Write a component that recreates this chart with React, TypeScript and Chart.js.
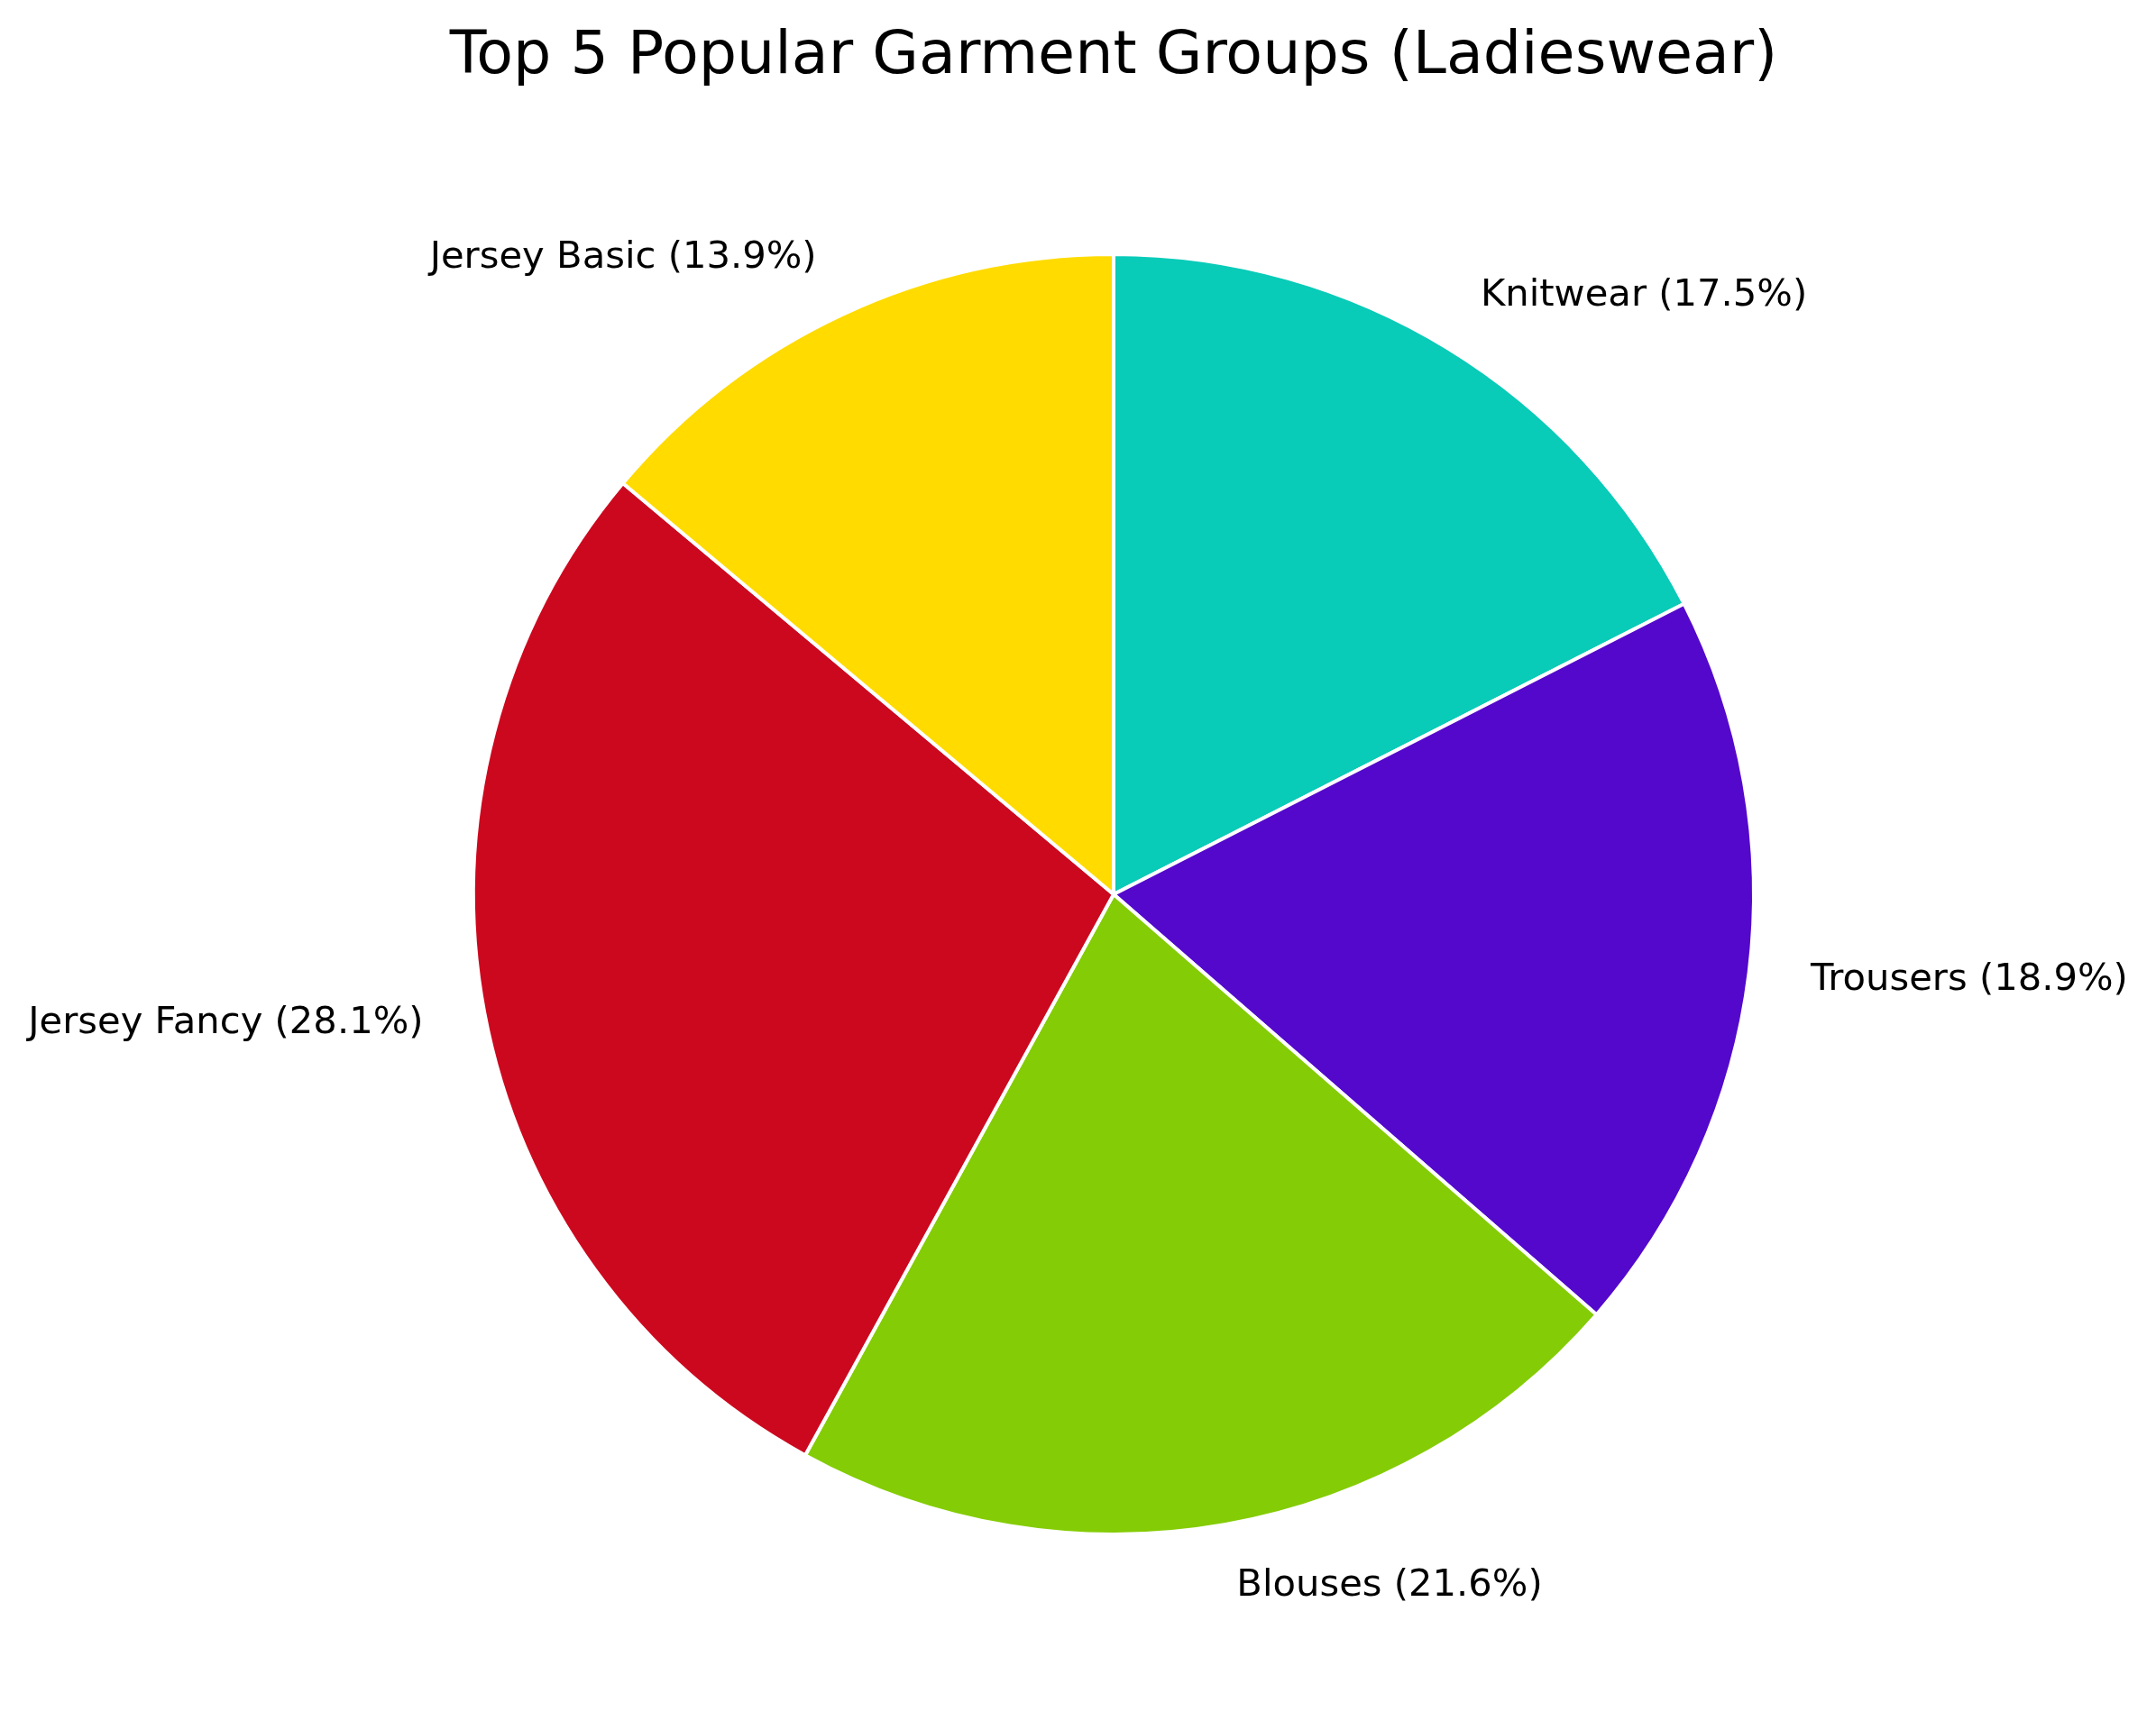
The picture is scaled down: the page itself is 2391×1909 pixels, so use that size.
import React, { useEffect, useRef } from "react";
import { Chart, registerables } from "chart.js";

Chart.register(...registerables);

const categories = ["Knitwear", "Trousers", "Blouses", "Jersey Fancy", "Jersey Basic"];
const shares = [17.5, 18.9, 21.6, 28.1, 13.9];
const colors = ["#08CBB8", "#5308CC", "#84CC05", "#CC081F", "#FFDB00"];
const titleText = "Top 5 Popular Garment Groups (Ladieswear)";

const W = 2391;
const H = 1909;
const FONT = "'DejaVu Sans', sans-serif";

const outsideLabels = {
  id: "outsideLabels",
  afterDatasetsDraw(chart: any) {
    const ctx = chart.ctx;
    const meta = chart.getDatasetMeta(0);
    const data = chart.data.datasets[0].data as number[];
    const total = data.reduce((a, b) => a + b, 0);
    ctx.save();
    ctx.font = `41.7px ${FONT}`;
    ctx.fillStyle = "#000000";
    ctx.textBaseline = "middle";
    meta.data.forEach((arc: any, i: number) => {
      const p = arc.getProps(["x", "y", "startAngle", "endAngle", "outerRadius"], true);
      const mid = (p.startAngle + p.endAngle) / 2;
      const r = (p.outerRadius - 2) * 1.1;
      const x = p.x + Math.cos(mid) * r;
      const y = p.y + Math.sin(mid) * r;
      ctx.textAlign = Math.cos(mid) >= 0 ? "left" : "right";
      const pct = ((data[i] / total) * 100).toFixed(1);
      ctx.fillText(`${chart.data.labels[i]} (${pct}%)`, x, y);
    });
    ctx.restore();
  },
};

export default function App() {
  const ref = useRef<HTMLCanvasElement | null>(null);
  useEffect(() => {
    if (!ref.current) return;
    const chart = new Chart(ref.current, {
      type: "pie",
      data: {
        labels: categories,
        datasets: [
          {
            data: shares,
            backgroundColor: colors,
            borderColor: "#ffffff",
            borderWidth: 4,
          },
        ],
      },
      options: {
        responsive: false,
        animation: false,
        radius: 710,
        layout: { padding: { top: 0, bottom: 207.5, left: 79, right: 0 } },
        plugins: {
          legend: { display: false },
          tooltip: { enabled: false },
          title: {
            display: true,
            text: titleText,
            color: "#000000",
            font: { family: FONT, size: 66.7, weight: "normal", lineHeight: 1.2 },
            padding: { top: 24, bottom: 178.5 },
          },
        },
      } as any,
      plugins: [outsideLabels],
    });
    return () => chart.destroy();
  }, []);
  return (
    <div style={{ position: "absolute", left: 0, top: 0, width: W, height: H, background: "#ffffff" }}>
      <canvas ref={ref} width={W} height={H} style={{ width: W, height: H }} />
    </div>
  );
}
